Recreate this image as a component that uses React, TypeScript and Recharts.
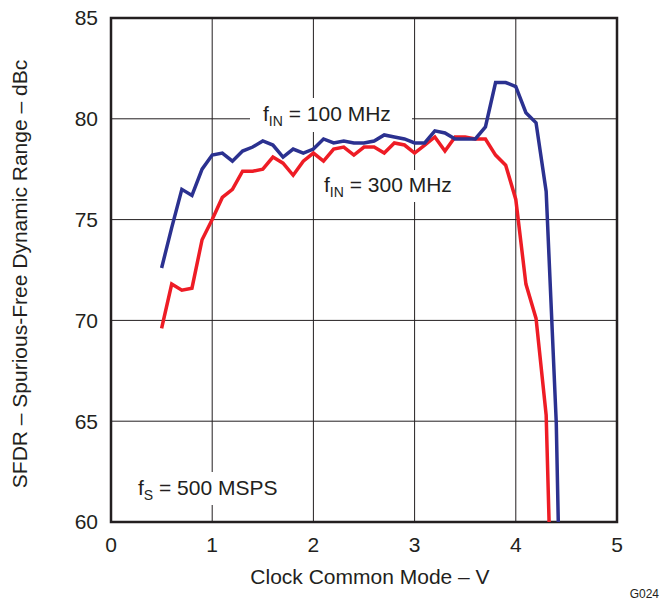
import React from 'react';
import { LineChart, Line, XAxis, YAxis, CartesianGrid, ReferenceArea, Label } from 'recharts';

const volts = [0.5, 0.6, 0.7, 0.8, 0.9, 1.0, 1.1, 1.2, 1.3, 1.4, 1.5, 1.6, 1.7, 1.8, 1.9, 2.0, 2.1, 2.2, 2.3, 2.4, 2.5, 2.6, 2.7, 2.8, 2.9, 3.0, 3.1, 3.2, 3.3, 3.4, 3.5, 3.6, 3.7, 3.8, 3.9, 4.0, 4.1, 4.2, 4.3, 4.4, 4.5];
// fIN = 100 MHz
const sfdr100 = [72.6, 74.6, 76.5, 76.2, 77.5, 78.2, 78.3, 77.9, 78.4, 78.6, 78.9, 78.7, 78.1, 78.5, 78.3, 78.5, 79.0, 78.8, 78.9, 78.8, 78.8, 78.9, 79.2, 79.1, 79.0, 78.8, 78.8, 79.4, 79.3, 79.0, 79.0, 79.0, 79.6, 81.8, 81.8, 81.6, 80.3, 79.8, 76.4, 64.9, 40];
// fIN = 300 MHz
const sfdr300 = [69.6, 71.8, 71.5, 71.6, 74.0, 75.0, 76.1, 76.5, 77.4, 77.4, 77.5, 78.1, 77.8, 77.2, 77.9, 78.3, 77.9, 78.5, 78.6, 78.2, 78.6, 78.6, 78.3, 78.8, 78.7, 78.3, 78.7, 79.1, 78.4, 79.1, 79.1, 79.0, 79.0, 78.2, 77.7, 76.0, 71.8, 70.1, 65.3, 47];

const xTicks = [0, 1, 2, 3, 4, 5];
const yTicks = [60, 65, 70, 75, 80, 85];

const data = volts.map((v, i) => ({ v, f100: sfdr100[i], f300: sfdr300[i] }));

const FONT = '"Liberation Sans", Arial, sans-serif';
const INK = '#231f20';

// annotation text with a white box behind it, like the datasheet plots
const note = (x, y, box, sub, rest) => () => (
  <g>
    <rect x={box[0]} y={box[1]} width={box[2]} height={box[3]} fill="#fff" />
    <text x={x} y={y} fontFamily={FONT} fontSize={21} fill={INK}>
      f<tspan fontSize={14} dy={5}>{sub}</tspan>
      <tspan fontSize={21} dy={-5}>{rest}</tspan>
    </text>
  </g>
);

export default function App() {
  return (
    <div style={{ position: 'absolute', left: 0, top: 0, background: '#fff' }}>
      <LineChart width={662} height={601} data={data} margin={{ top: 18, right: 45, bottom: 0, left: 0 }}>
        <CartesianGrid stroke={INK} strokeWidth={1} />
        <XAxis
          dataKey="v"
          type="number"
          domain={[0, 5]}
          ticks={xTicks}
          height={79}
          axisLine={false}
          tickLine={false}
          tickMargin={9}
          tick={{ fontFamily: FONT, fontSize: 21, fill: INK }}
        >
          <Label content={() => (
            <text x={370} y={584} textAnchor="middle" fontFamily={FONT} fontSize={21} fill={INK}>Clock Common Mode – V</text>
          )} />
          <Label content={note(263, 121, [250, 98, 162, 34], 'IN', ' = 100 MHz')} />
          <Label content={note(324, 192, [318, 170, 142, 32], 'IN', ' = 300 MHz')} />
          <Label content={note(138, 495, [132, 472, 156, 33], 'S', ' = 500 MSPS')} />
          <Label content={() => (
            <text x={659} y={598} textAnchor="end" fontFamily={FONT} fontSize={12} fill={INK}>G024</text>
          )} />
        </XAxis>
        <YAxis
          type="number"
          domain={[60, 85]}
          ticks={yTicks}
          allowDataOverflow
          width={111}
          axisLine={false}
          tickLine={false}
          tickMargin={7}
          tick={{ fontFamily: FONT, fontSize: 21, fill: INK }}
        >
          <Label content={() => (
            <text x={0} y={0} transform="translate(27,274) rotate(-90)" textAnchor="middle" fontFamily={FONT} fontSize={21} fill={INK}>
              SFDR – Spurious-Free Dynamic Range – dBc
            </text>
          )} />
        </YAxis>
        <ReferenceArea x1={0} x2={5} y1={60} y2={85} fill="none" stroke={INK} strokeWidth={2.5} />
        <Line dataKey="f300" stroke="#ee1c25" strokeWidth={3.5} dot={false} isAnimationActive={false} />
        <Line dataKey="f100" stroke="#2b3190" strokeWidth={3.5} dot={false} isAnimationActive={false} />
      </LineChart>
    </div>
  );
}
